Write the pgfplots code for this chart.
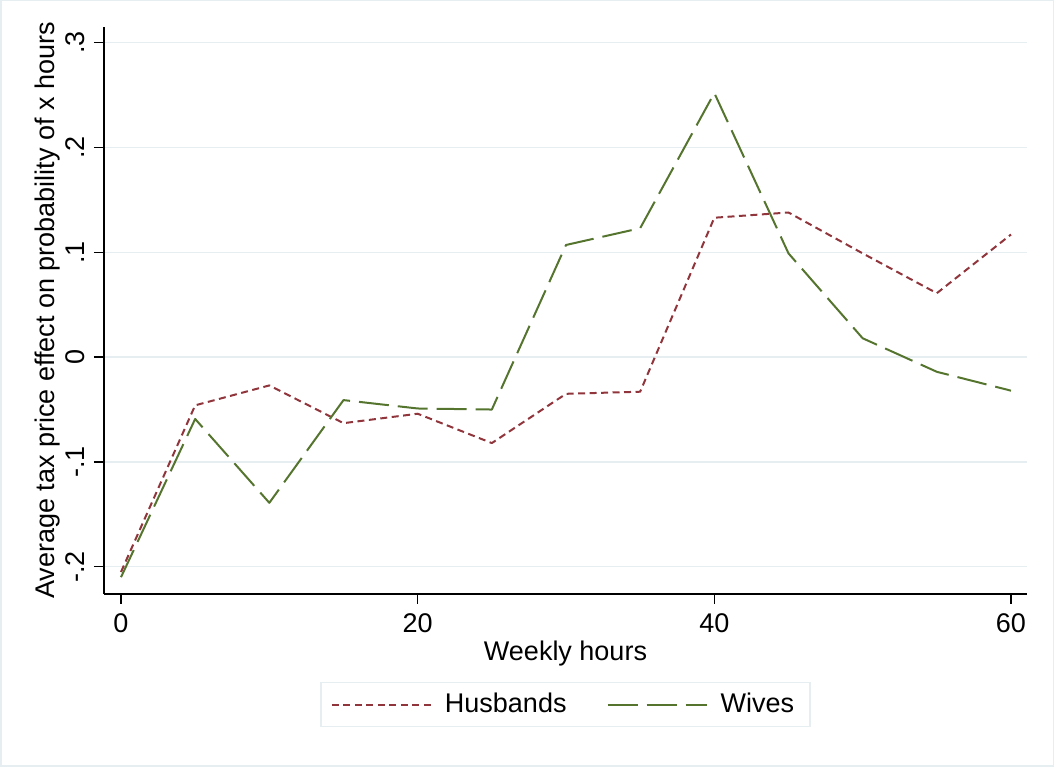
\documentclass[border=0pt]{standalone}
\usepackage{fontspec}
\setmainfont{Liberation Sans}
\usepackage{pgfplots}
\pgfplotsset{compat=1.18}
\definecolor{husb}{RGB}{144,53,59}
\definecolor{wive}{RGB}{85,117,47}
\definecolor{gridc}{RGB}{230,238,241}
\begin{document}
\fontsize{27}{32}\selectfont
\begin{tikzpicture}
\draw[gridc, line width=1.5pt] (0.75pt,0.75pt) rectangle (1053.25pt,766.25pt);
\begin{axis}[
  at={(104pt,173pt)}, anchor=south west,
  scale only axis, width=923pt, height=567pt,
  xmin=-1.146, xmax=61.08, ymin=-0.226, ymax=0.315,
  axis lines*=left, axis line style={line width=1.3pt, -},
  xtick={0,20,40,60}, xticklabels={0,20,40,60},
  ytick={-0.2,-0.1,0,0.1,0.2,0.3}, yticklabels={-.2,-.1,0,.1,.2,.3},
  tick align=outside, major tick length=10pt,
  tick style={line width=1.3pt, black},
  ymajorgrids, grid style={gridc, line width=1.5pt},
  yticklabel style={rotate=90, anchor=south},
  xticklabel style={anchor=north},
  xlabel={Weekly hours},
  xlabel style={at={([yshift=-67pt]axis description cs:0.5,0)}, anchor=base},
  ylabel={Average tax price effect on probability of x hours},
  ylabel style={at={([xshift=-50pt]axis description cs:0,0.5)}, anchor=base, rotate=0},
  legend columns=2,
  legend style={at={([yshift=-88pt]axis description cs:0.5,0)}, anchor=north,
    draw=gridc, line width=1.5pt, inner xsep=10pt, inner ysep=4pt,
    /tikz/every odd column/.append style={column sep=7pt},
    /tikz/every even column/.append style={column sep=34pt},
    nodes={inner sep=6pt}},
  legend image code/.code={\draw[#1] (0pt,0pt) -- (99pt,0pt);},
]
\addplot[husb, line width=2pt, dash pattern=on 7pt off 4.5pt, line join=round] coordinates {
(0,-0.205) (5,-0.046) (10,-0.027) (15,-0.063) (20,-0.054) (25,-0.082)
(30,-0.035) (35,-0.033) (40,0.133) (45,0.138) (50,0.099) (55,0.061) (60,0.117)};
\addlegendentry{Husbands}
\addplot[wive, line width=2pt, dash pattern=on 30pt off 9pt, line join=round] coordinates {
(0,-0.210) (5,-0.059) (10,-0.139) (15,-0.041) (20,-0.049) (25,-0.050)
(30,0.107) (35,0.123) (40,0.252) (45,0.099) (50,0.018) (55,-0.014) (60,-0.032)};
\addlegendentry{Wives}
\end{axis}
\end{tikzpicture}
\end{document}
